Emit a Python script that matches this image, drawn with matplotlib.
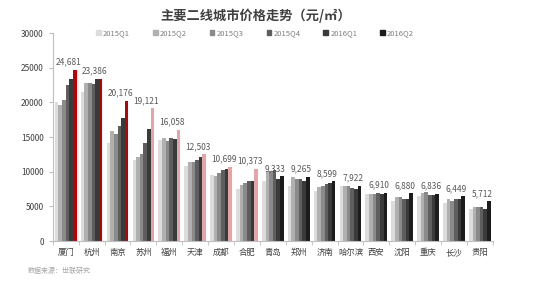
import numpy as np
import matplotlib
matplotlib.use("Agg")
import matplotlib.pyplot as plt
from matplotlib.patches import Patch

plt.rcParams['font.family'] = ['Noto Sans CJK SC', 'DejaVu Sans']

cities = ["厦门", "杭州", "南京", "苏州", "福州", "天津", "成都", "合肥", "青岛",
          "郑州", "济南", "哈尔滨", "西安", "沈阳", "重庆", "长沙", "贵阳"]
quarters = ["2015Q1", "2015Q2", "2015Q3", "2015Q4", "2016Q1", "2016Q2"]

q2015_1 = [20000, 21500, 14200, 11700, 14550, 10800, 9500, 7550, 8700, 7900, 7250, 7900, 6770, 5800, 6500, 5500, 4650]
q2015_2 = [19600, 22800, 15900, 12100, 14900, 11400, 9400, 8070, 10100, 9200, 7800, 7900, 6770, 6300, 6950, 6100, 4950]
q2015_3 = [20300, 22800, 15400, 12500, 14500, 11400, 9750, 8400, 10100, 8900, 7900, 8000, 6770, 6400, 7060, 5800, 4950]
q2015_4 = [22500, 22600, 16600, 14100, 14800, 11700, 10200, 8700, 10300, 9000, 8300, 7700, 6960, 6100, 6670, 6100, 4950]
q2016_1 = [23300, 23300, 17700, 16200, 14700, 12100, 10400, 8650, 9000, 8700, 8400, 7550, 6770, 6000, 6670, 6100, 4650]
q2016_2 = [24681, 23386, 20176, 19121, 16058, 12503, 10699, 10373, 9333, 9265, 8599, 7922, 6910, 6880, 6836, 6449, 5712]

series = [q2015_1, q2015_2, q2015_3, q2015_4, q2016_1, q2016_2]
grays = ["#dcdcdc", "#b0b0b0", "#8a8a8a", "#5e5e5e", "#3a3a3a", "#1c1c1c"]
last_colors = ["#c00000"] * 3 + ["#e8a3a6"] * 5 + ["#1c1c1c"] * 9

fig = plt.figure(figsize=(5.5, 2.87), dpi=100)
ax = fig.add_axes([0.096, 0.160, 0.80, 0.725])

x = np.arange(len(cities))
w = 0.14
for i, vals in enumerate(series):
    pos = x - 0.35 + i * w
    colors = last_colors if i == 5 else grays[i]
    ax.bar(pos, vals, width=w, color=colors)

for xi, v in zip(x, q2016_2):
    ax.text(xi + 0.1, v + 500, f"{v:,}", ha="center", va="bottom",
            fontsize=6, color="#595959")

ax.set_xlim(-0.5, len(cities) - 0.5)
ax.set_ylim(0, 30000)
ax.set_yticks(range(0, 30001, 5000))
ax.tick_params(axis="y", labelsize=6, colors="#404040", length=3, color="#bfbfbf")
ax.set_xticks(x)
ax.set_xticklabels(cities, fontsize=6, color="#404040")
ax.tick_params(axis="x", length=0, pad=5)
ax.set_xticks(np.arange(-0.5, len(cities)), minor=True)
ax.tick_params(axis="x", which="minor", length=3, color="#bfbfbf")

for s in ["top", "right"]:
    ax.spines[s].set_visible(False)
for s in ["left", "bottom"]:
    ax.spines[s].set_color("#bfbfbf")
    ax.spines[s].set_linewidth(0.8)

handles = [Patch(color=c) for c in grays]
leg = ax.legend(handles, quarters, ncol=6, loc="upper center", bbox_to_anchor=(0.46, 1.05),
                frameon=False, fontsize=5.5, handlelength=0.6, handleheight=0.6,
                columnspacing=3.0, handletextpad=0.3)
for t in leg.get_texts():
    t.set_color("#7f7f7f")

fig.text(0.465, 0.945, "主要二线城市价格走势（元/㎡）", ha="center", va="center",
         fontsize=9.5, fontweight="bold", color="#404040")
fig.text(0.05, 0.05, "数据来源：世联研究", fontsize=5, color="#a6a6a6")

fig.savefig("out.png", dpi=100)
